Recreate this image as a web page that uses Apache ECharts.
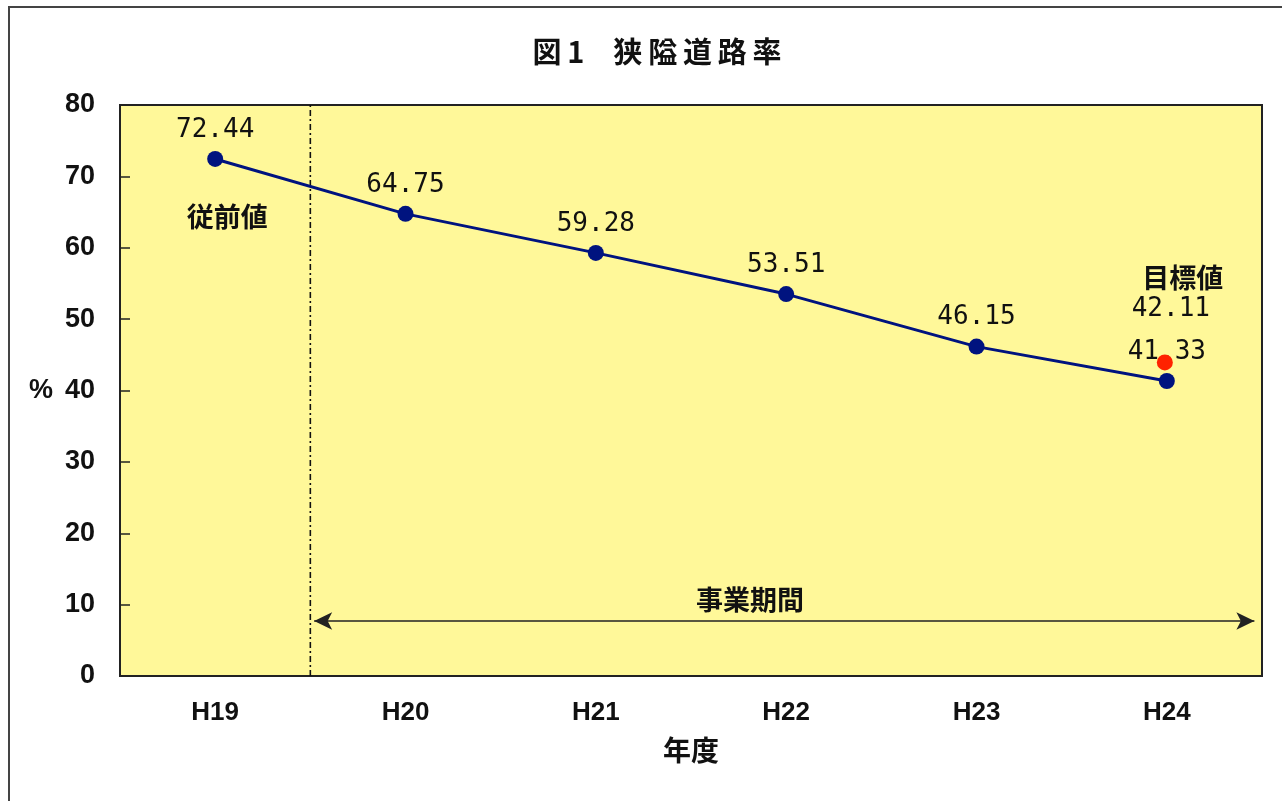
<!DOCTYPE html>
<html>
<head>
<meta charset="utf-8">
<script src="https://cdn.jsdelivr.net/npm/echarts@6/dist/echarts.min.js"></script>
<style>
html,body{margin:0;padding:0;background:#fff;}
#chart{width:1282px;height:801px;}
</style>
</head>
<body>
<div id="chart"></div>
<script>
// 年度
const years = ['H19', 'H20', 'H21', 'H22', 'H23', 'H24'];
// 狭隘道路率 (%)
const narrowRoadRate = [72.44, 64.75, 59.28, 53.51, 46.15, 41.33];
// 目標値 (H24)
const targetYearIndex = 5;
const targetRate = 42.11;
// y軸の範囲
const yMin = 0, yMax = 80, yStep = 10;
// 事業期間 (H20〜H24) の区切り位置と矢印の高さ
const periodStart = 1;
const periodArrow = [1.02, 5.96];
const periodArrowY = 7.7;

const cjk = '"Noto Sans CJK JP", sans-serif';
const num = '"DejaVu Sans Mono", monospace';
const axisFont = '"Liberation Sans", Arial, sans-serif';
const thin = '\u2009';

const chart = echarts.init(document.getElementById('chart'), null, {renderer: 'canvas'});

// 文字間を少し空けた見出し用テキスト
const spaced = s => Array.from(s).join(thin);

// 記号を描かずに文字だけを置く markPoint
const textPoint = (text, coord, offset) => ({
  coord: coord,
  symbol: 'circle',
  symbolSize: 1,
  itemStyle: {color: 'rgba(0,0,0,0)'},
  label: {
    show: true, position: 'inside', formatter: text, offset: offset,
    fontFamily: cjk, fontSize: 27, fontWeight: 'bold', color: '#111'
  }
});

chart.setOption({
  animation: false,
  backgroundColor: '#ffffff',
  graphic: [{
    type: 'rect',
    shape: {x: 9, y: 7, width: 1400, height: 900},
    style: {fill: 'none', stroke: '#444', lineWidth: 2},
    silent: true, z: 100
  }],
  title: {
    text: spaced('図1') + '　' + spaced('狭隘道路率'),
    left: 652, top: 32, textAlign: 'center',
    textStyle: {fontFamily: cjk, fontSize: 29, fontWeight: 'bold', color: '#111'}
  },
  grid: {
    left: 120, right: 20, top: 105, bottom: 125,
    show: true, backgroundColor: '#fff899', borderColor: '#222', borderWidth: 2
  },
  xAxis: [{
    type: 'category',
    data: years,
    boundaryGap: true,
    name: '年度',
    nameLocation: 'middle',
    nameGap: 60,
    nameTextStyle: {fontFamily: cjk, fontSize: 28, fontWeight: 'bold', color: '#111'},
    axisLine: {lineStyle: {color: '#222', width: 2}},
    axisTick: {inside: true, length: 9, lineStyle: {color: '#222', width: 1.5}},
    axisLabel: {fontFamily: axisFont, fontSize: 26, fontWeight: 'bold', color: '#111', margin: 24},
    splitLine: {show: false}
  }, {
    type: 'value',
    min: 0, max: years.length,
    show: false
  }],
  yAxis: {
    type: 'value',
    min: yMin, max: yMax, interval: yStep,
    name: '%',
    nameLocation: 'middle',
    nameRotate: 0,
    nameGap: 67,
    nameTextStyle: {fontFamily: axisFont, fontSize: 27, fontWeight: 'bold', color: '#111'},
    axisLine: {show: true, lineStyle: {color: '#222', width: 2}},
    axisTick: {show: true, inside: true, length: 10, lineStyle: {color: '#222', width: 1.5}},
    axisLabel: {fontFamily: axisFont, fontSize: 27, fontWeight: 'bold', color: '#111', margin: 25},
    splitLine: {show: false}
  },
  series: [{
    // 事業開始の区切り線
    type: 'line',
    xAxisIndex: 1,
    data: [[periodStart, yMin], [periodStart, yMax]],
    symbol: 'none',
    silent: true,
    lineStyle: {color: '#111', width: 1.6, type: [6, 3, 2, 3]},
    z: 2
  }, {
    // 事業期間の両矢印
    type: 'line',
    xAxisIndex: 1,
    data: [],
    silent: true,
    markLine: {
      silent: true,
      symbol: ['arrow', 'arrow'],
      symbolSize: [13, 18],
      lineStyle: {color: '#222', width: 1.5, type: 'solid'},
      label: {show: false},
      data: [[{coord: [periodArrow[0], periodArrowY]}, {coord: [periodArrow[1], periodArrowY]}]]
    },
    markPoint: {
      silent: true,
      data: [textPoint('事業期間', [3.31, 10.65], [0, 0])]
    },
    z: 2
  }, {
    name: '狭隘道路率',
    type: 'line',
    data: narrowRoadRate,
    symbol: 'circle',
    symbolSize: 16,
    color: '#00137f',
    lineStyle: {color: '#00137f', width: 3},
    itemStyle: {color: '#00137f'},
    label: {
      show: true, position: 'top', distance: 8,
      formatter: p => p.value.toFixed(2),
      fontFamily: num, fontSize: 26, color: '#111'
    },
    markPoint: {
      silent: true,
      data: [textPoint('従前値', [0, narrowRoadRate[0]], [12, 58])]
    },
    z: 3
  }, {
    name: '目標値',
    type: 'scatter',
    data: [[targetYearIndex, targetRate]],
    symbol: 'circle',
    symbolSize: 16,
    symbolOffset: [-2, -13],
    itemStyle: {color: '#ff2200', opacity: 1},
    label: {
      show: true, position: 'top', distance: 8,
      formatter: p => '{a|目標値}\n{b|' + p.value[1].toFixed(2) + '}',
      rich: {
        a: {fontFamily: cjk, fontSize: 27, fontWeight: 'bold', color: '#111', lineHeight: 31, padding: [0, 0, 0, 24]},
        b: {fontFamily: num, fontSize: 26, color: '#111', lineHeight: 31}
      },
      offset: [6, -22]
    },
    z: 4
  }]
});
</script>
</body>
</html>
